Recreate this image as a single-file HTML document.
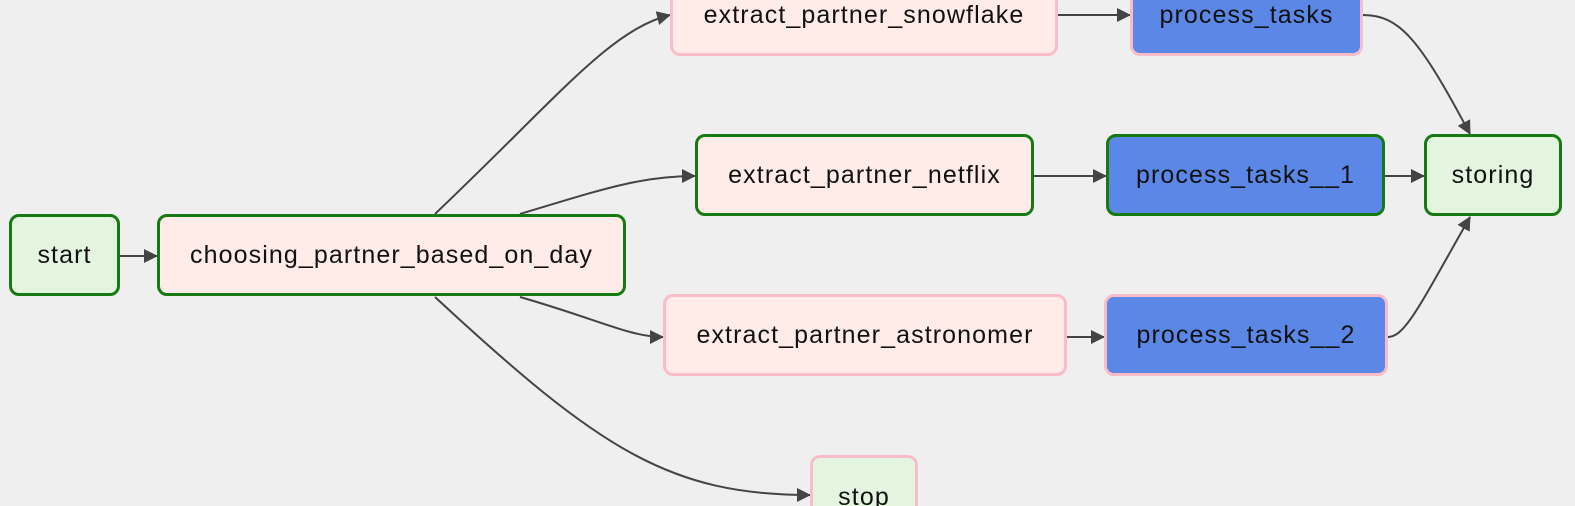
<!DOCTYPE html>
<html><head><style>
html,body{margin:0;width:1575px;height:506px;overflow:hidden}
body{background:#efeff0;font-family:"Liberation Sans",sans-serif;position:relative}
.n{position:absolute;box-sizing:border-box;border:3px solid;border-radius:10px;display:flex;align-items:center;justify-content:center;font-size:25px;letter-spacing:1.1px;color:#111;height:82px}
.g{border-color:#157a12}.p{border-color:#f9bcc8}
.fp{background:#ffebe8}.fg{background:#e4f5df}.fb{background:#5b87e6}
svg{position:absolute;left:0;top:0}
</style></head><body>
<svg width="1575" height="506">
<defs><marker id="a" markerWidth="14" markerHeight="14" refX="13" refY="7" orient="auto" markerUnits="userSpaceOnUse"><path d="M0,0 L14,7 L0,14z" fill="#444"/></marker></defs>
<g stroke="#444" stroke-width="2" fill="none" marker-end="url(#a)">
<path d="M120,256 L157,256"/>
<path d="M435,214 C560,95 610,30 670,15"/>
<path d="M520,214 C600,190 640,176 695,176"/>
<path d="M520,297 C600,320 630,337 663,337"/>
<path d="M435,297 C600,450 670,495 810,495"/>
<path d="M1058,15 L1130,15"/>
<path d="M1363,15 C1400,15 1420,40 1470,134"/>
<path d="M1034,176 L1106,176"/>
<path d="M1385,176 L1424,176"/>
<path d="M1067,337 L1104,337"/>
<path d="M1388,337 C1405,337 1420,305 1470,217"/>
</g></svg>
<div class="n g fg" style="left:9px;top:214px;width:111px">start</div>
<div class="n g fp" style="left:157px;top:214px;width:469px">choosing_partner_based_on_day</div>
<div class="n p fp" style="left:670px;top:-26px;width:388px">extract_partner_snowflake</div>
<div class="n p fb" style="left:1130px;top:-26px;width:233px">process_tasks</div>
<div class="n g fp" style="left:695px;top:134px;width:339px">extract_partner_netflix</div>
<div class="n g fb" style="left:1106px;top:134px;width:279px">process_tasks__1</div>
<div class="n g fg" style="left:1424px;top:134px;width:138px">storing</div>
<div class="n p fp" style="left:663px;top:294px;width:404px">extract_partner_astronomer</div>
<div class="n p fb" style="left:1104px;top:294px;width:284px">process_tasks__2</div>
<div class="n p fg" style="left:810px;top:455px;width:108px;height:51px;border-bottom:none;border-radius:10px 10px 0 0;align-items:flex-start;padding-top:25px">stop</div>
</body></html>
